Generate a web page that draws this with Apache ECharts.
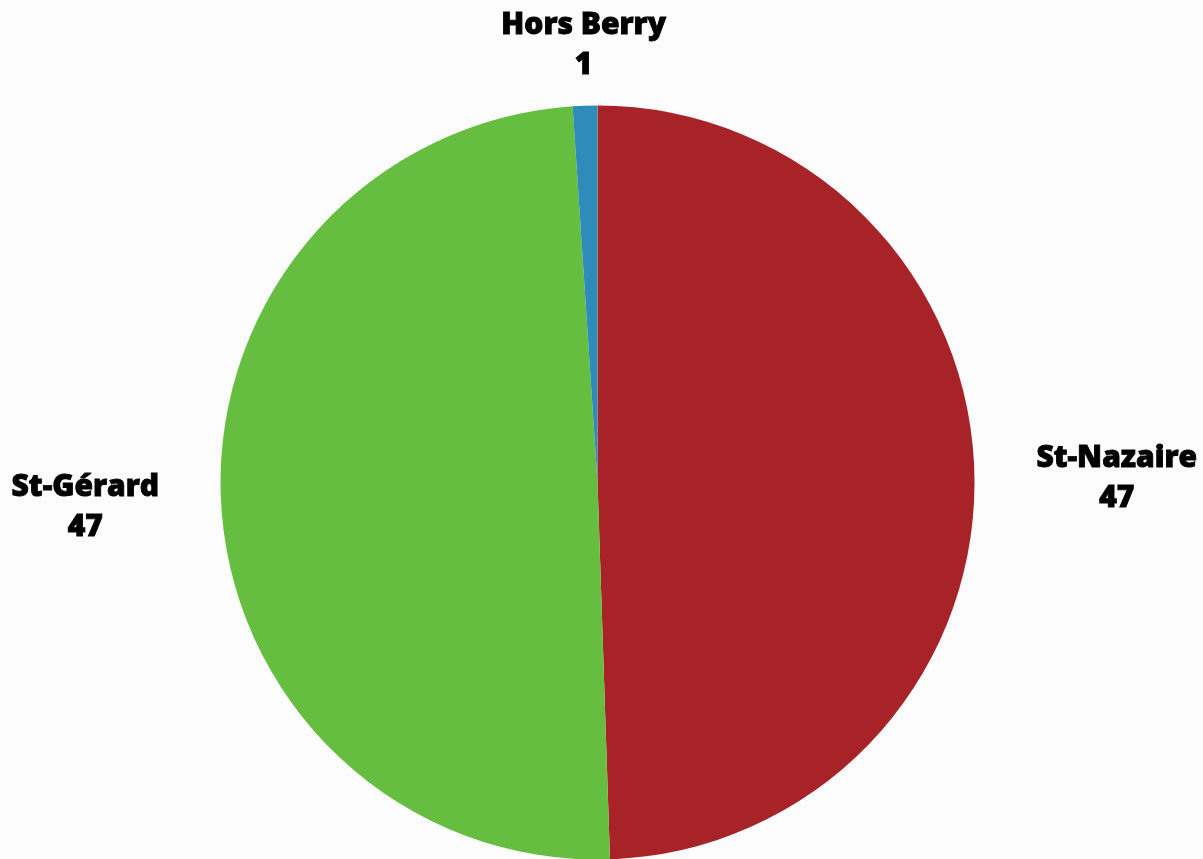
<!DOCTYPE html>
<html><head><meta charset="utf-8">
<script src="https://cdn.jsdelivr.net/npm/echarts@6/dist/echarts.min.js"></script>
<style>html,body{margin:0;padding:0;background:#fcfcfc;}#c{width:1203px;height:859px;}</style>
</head><body><div id="c"></div>
<script>
const categories = ['St-Nazaire', 'St-Gérard', 'Hors Berry'];
const values = [47, 47, 1];
const colors = ['#A82328', '#65BE40', '#2E8BBA'];

const chart = echarts.init(document.getElementById('c'), null, {renderer: 'canvas'});
const CX = 0.4967;
chart.setOption({
  backgroundColor: '#fcfcfc',
  animation: false,
  series: [{
    type: 'pie',
    center: ['49.67%', '56.17%'],
    radius: [0, 377],
    startAngle: 90,
    clockwise: true,
    avoidLabelOverlap: false,
    data: categories.map((n, i) => ({name: n, value: values[i], itemStyle: {color: colors[i]}})),
    itemStyle: {borderWidth: 0},
    label: {
      show: true,
      position: 'outer',
      formatter: '{b}\n{c}',
      color: '#000',
      fontFamily: 'Open Sans',
      fontWeight: 800,
      fontSize: 30,
      lineHeight: 40,
      textBorderColor: '#000',
      textBorderWidth: 0.9
    },
    labelLine: {show: false, length: 57, length2: 0},
    labelLayout: function (p) {
      const r = p.labelRect;
      const cx = chart.getWidth() * CX;
      const lcx = r.x + r.width / 2;
      let x, dy;
      if (Math.abs(lcx - cx) < r.width) {
        x = lcx < cx ? r.x + r.width + 5 : r.x - 5;
        dy = -3;
      } else {
        x = lcx;
        dy = 3;
      }
      return {x: x, y: r.y + r.height / 2 + dy, align: 'center', verticalAlign: 'middle'};
    }
  }]
});
</script></body></html>
